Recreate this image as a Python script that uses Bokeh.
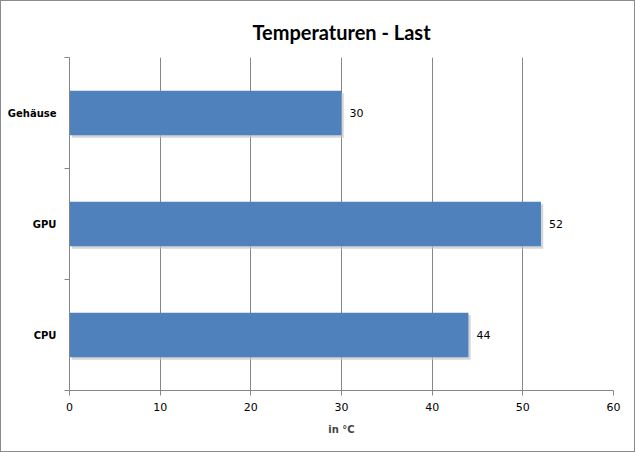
from bokeh.plotting import figure
from bokeh.models import ColumnDataSource, FixedTicker, Range1d
from bokeh.core.properties import value
from bokeh.transform import dodge
from bokeh.embed import file_html
from bokeh.resources import INLINE

categories = ["CPU", "GPU", "Gehäuse"]
temps = [44, 52, 30]
x_ticks = [0, 10, 20, 30, 40, 50, 60]

pos = [i + 0.5 for i in range(len(categories))]
src = ColumnDataSource(dict(y=pos, v=temps, lab=[str(t) for t in temps]))

p = figure(width=635, height=452, output_backend="svg", toolbar_location=None,
           x_range=Range1d(0, 60), y_range=Range1d(0, len(categories)),
           min_border_left=68, min_border_right=23, min_border_top=56, min_border_bottom=63,
           title="Temperaturen - Last",
           styles={"border": "1px solid #8a8a8a", "box-sizing": "border-box"})
p.title.align = "center"
p.title.text_font = "Lato"
p.title.text_font_size = "20px"
p.title.text_font_style = "bold"
p.title.text_color = "#000000"
p.title.standoff = 27
p.outline_line_color = None
p.background_fill_color = "white"
p.border_fill_color = "white"

p.hbar(y=dodge("y", -0.022, range=p.y_range), right=dodge("v", 0.25, range=p.x_range), left=0.25,
       height=0.4, source=src, fill_color="#c4c4c4", line_color=None, fill_alpha=0.7)
p.hbar(y="y", right="v", left=0, height=0.4, source=src, fill_color="#4F81BD", line_color=None)
p.text(x="v", y="y", text="lab", source=src, x_offset=8, text_baseline="middle",
       text_font=value("DejaVu Sans"), text_font_size="11px", text_color="#000000")

grey = "#868686"
p.xaxis.ticker = FixedTicker(ticks=x_ticks, minor_ticks=[])
p.xaxis.axis_label = "in °C"
p.xaxis.axis_label_text_font = "DejaVu Sans"
p.xaxis.axis_label_text_font_size = "10px"
p.xaxis.axis_label_text_font_style = "bold"
p.xaxis.axis_label_standoff = 10
p.xaxis.major_label_text_font = "DejaVu Sans"
p.xaxis.major_label_text_font_size = "11px"
p.xaxis.major_label_text_color = "#000000"
p.xaxis.major_label_standoff = 7
p.xaxis.axis_line_color = grey
p.xaxis.major_tick_line_color = grey
p.xaxis.major_tick_out = 5
p.xaxis.major_tick_in = 0
p.xaxis.minor_tick_line_color = None

p.yaxis.ticker = FixedTicker(ticks=pos, minor_ticks=list(range(len(categories) + 1)))
p.yaxis.major_label_overrides = {pv: c for pv, c in zip(pos, categories)}
p.yaxis.major_label_text_font = "DejaVu Sans"
p.yaxis.major_label_text_font_size = "10px"
p.yaxis.major_label_text_font_style = "bold"
p.yaxis.major_label_text_color = "#000000"
p.yaxis.major_tick_line_color = None
p.yaxis.major_label_standoff = 7
p.yaxis.axis_line_color = grey
p.yaxis.minor_tick_line_color = grey
p.yaxis.minor_tick_out = 5
p.yaxis.minor_tick_in = 0

p.xgrid.grid_line_color = grey
p.xgrid.ticker = FixedTicker(ticks=x_ticks[1:])
p.ygrid.grid_line_color = None

open("out.html", "w").write(file_html(p, INLINE))
